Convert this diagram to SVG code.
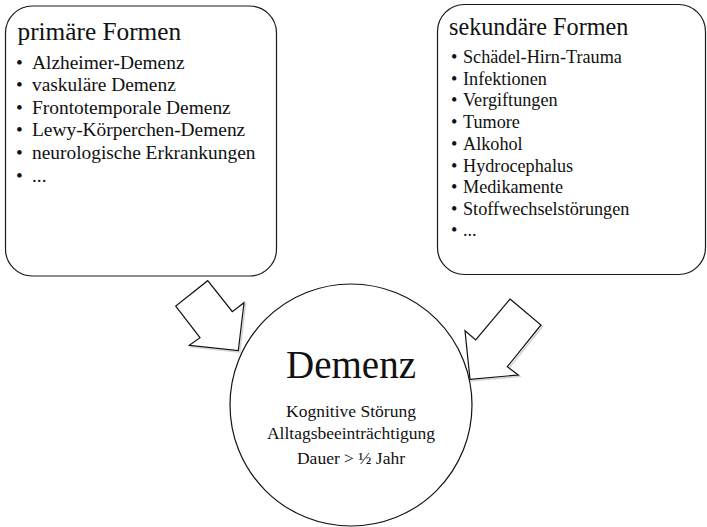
<svg xmlns="http://www.w3.org/2000/svg" width="707" height="527" viewBox="0 0 707 527">
<style>
.box{fill:#fff;stroke:#1a1a1a;stroke-width:1.2}
.arrow{fill:#fff;stroke:#111;stroke-width:1.2;stroke-linejoin:miter}
.shadow{fill:none;stroke:#d4d4d4;stroke-width:1.5}
text{font-family:"Liberation Serif","Times New Roman",serif;fill:#111}
.hl{font-size:25.3px}
.h{font-size:24.2px}
.l{font-size:19.4px}
.r{font-size:18.2px}
.c{font-size:17.5px;text-anchor:middle}
.big{font-size:39px;text-anchor:middle}
</style>
<rect width="707" height="527" fill="#fff"/>
<g id="connectors">
  <polygon class="shadow" points="207.7,280.7 232.3,311.7 244,302.7 238.3,350.7 189.3,345.3 200,337.7 175.7,306" transform="translate(1.5,1.5)"/>
  <polygon class="arrow" points="207.7,280.7 232.3,311.7 244,302.7 238.3,350.7 189.3,345.3 200,337.7 175.7,306"/>
  <polygon class="shadow" points="510,299 541,325 507.3,366.7 518.3,375 470,379.3 465,330.7 475.7,340" transform="translate(1.5,1.5)"/>
  <polygon class="arrow" points="510,299 541,325 507.3,366.7 518.3,375 470,379.3 465,330.7 475.7,340"/>
</g>
<g id="primaer">
  <rect class="box" x="5.5" y="6" width="271" height="270" rx="27"/>
  <text class="hl" x="17.5" y="39.5">primäre Formen</text>
  <g class="l">
    <text x="16" y="69">•</text><text x="32" y="69">Alzheimer-Demenz</text>
    <text x="16" y="91">•</text><text x="32" y="91">vaskuläre Demenz</text>
    <text x="16" y="113.5">•</text><text x="32" y="113.5">Frontotemporale Demenz</text>
    <text x="16" y="136">•</text><text x="32" y="136">Lewy-Körperchen-Demenz</text>
    <text x="16" y="158.5">•</text><text x="32" y="158.5">neurologische Erkrankungen</text>
    <text x="16" y="182">•</text><text x="32" y="182">...</text>
  </g>
</g>
<g id="sekundaer">
  <rect class="box" x="437.5" y="4.5" width="268" height="270" rx="27"/>
  <text class="h" x="449" y="35">sekundäre Formen</text>
  <g class="r">
    <text x="451" y="63.3">•</text><text x="463" y="63.3">Schädel-Hirn-Trauma</text>
    <text x="451" y="84.5">•</text><text x="463" y="84.5">Infektionen</text>
    <text x="451" y="106">•</text><text x="463" y="106">Vergiftungen</text>
    <text x="451" y="127.7">•</text><text x="463" y="127.7">Tumore</text>
    <text x="451" y="150">•</text><text x="463" y="150">Alkohol</text>
    <text x="451" y="171.7">•</text><text x="463" y="171.7">Hydrocephalus</text>
    <text x="451" y="193.3">•</text><text x="463" y="193.3">Medikamente</text>
    <text x="451" y="215">•</text><text x="463" y="215">Stoffwechselstörungen</text>
    <text x="451" y="236">•</text><text x="463" y="236">...</text>
  </g>
</g>
<g id="demenz">
  <circle cx="351" cy="405" r="121" fill="#fff" fill-opacity="0" stroke="#111" stroke-width="1.2"/>
  <text class="big" x="351" y="377.5">Demenz</text>
  <text class="c" x="351" y="417">Kognitive Störung</text>
  <text class="c" x="351" y="439">Alltagsbeeinträchtigung</text>
  <text class="c" x="351" y="464">Dauer &gt; ½ Jahr</text>
</g>
</svg>
